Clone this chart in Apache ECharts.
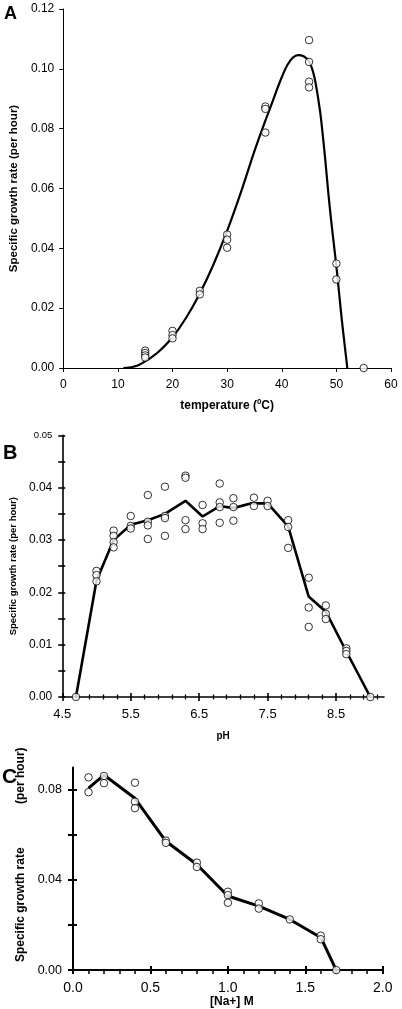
<!DOCTYPE html>
<html><head><meta charset="utf-8">
<script src="https://cdn.jsdelivr.net/npm/echarts@6/dist/echarts.min.js"></script>
<style>html,body{margin:0;padding:0;background:#fff}#c{width:402px;height:1009px}</style>
</head><body><div id="c"></div>
<script>
// ---------- DATA ----------
// Panel A: temperature
const tempCurveX = [11,12,13,14,15,16,17.5,20,22.5,25,27.5,30,32.5,35,37,38,39,40,41,42,43,44,45,46,47,47.5,48,48.5,49,49.5,50,50.5,51,51.5,52];
const tempCurveY = [0,0.0001,0.0005,0.0012,0.0022,0.0034,0.0055,0.0103,0.0168,0.0249,0.0346,0.0458,0.0586,0.0725,0.0827,0.0875,0.0925,0.0972,0.1012,0.1037,0.1046,0.1042,0.1025,0.097,0.086,0.078,0.069,0.059,0.05,0.042,0.034,0.025,0.016,0.008,0];
const tempObsX = [15,15,15,15,20,20,20,25,25,30,30,30,37,37,37,45,45,45,45,50,50,55];
const tempObsY = [0.0058,0.005,0.0042,0.0035,0.0124,0.011,0.0099,0.0258,0.0246,0.0446,0.0429,0.0402,0.0874,0.0866,0.0787,0.1096,0.1023,0.0957,0.0938,0.0349,0.0296,0];
const tempTicks = [0,10,20,30,40,50,60];
const rateTicksA = [0,0.02,0.04,0.06,0.08,0.10,0.12];

// Panel B: pH
const phLineX = [4.7,5.0,5.25,5.5,5.75,6.0,6.3,6.55,6.8,7.0,7.25,7.5,7.8,8.1,8.35,8.65,9.0];
const phLineY = [0,0.0222,0.0300,0.0329,0.0338,0.0350,0.0375,0.0345,0.0365,0.0361,0.0370,0.0370,0.0326,0.0192,0.0163,0.0087,0];
const phObsX = [4.7,5.0,5.0,5.0,5.25,5.25,5.25,5.25,5.5,5.5,5.5,5.75,5.75,5.75,5.75,6.0,6.0,6.0,6.0,6.3,6.3,6.3,6.3,6.55,6.55,6.55,6.8,6.8,6.8,6.8,7.0,7.0,7.0,7.3,7.3,7.5,7.5,7.8,7.8,7.8,8.1,8.1,8.1,8.35,8.35,8.35,8.65,8.65,8.65,9.0];
const phObsY = [0,0.0241,0.0233,0.0221,0.0318,0.0308,0.0296,0.0286,0.0346,0.0327,0.0322,0.0386,0.0335,0.0328,0.0302,0.0402,0.0346,0.0342,0.0308,0.0423,0.0419,0.0338,0.0321,0.0367,0.0332,0.0321,0.0408,0.0372,0.0363,0.0333,0.038,0.0363,0.0337,0.0381,0.0365,0.0375,0.0365,0.0338,0.0325,0.0285,0.0228,0.0171,0.0134,0.0175,0.0159,0.0149,0.0093,0.0088,0.0082,0];
const phTicks = [4.5,5.5,6.5,7.5,8.5];
const phMinorTicks = [4.7,4.9,5.1,5.3,5.7,5.9,6.1,6.3,6.7,6.9,7.1,7.3,7.7,7.9,8.1,8.3,8.7,8.9,9.1];
const rateTicksB = [0,0.01,0.02,0.03,0.04,0.05];
const rateMinorTicksB = [0.005,0.015,0.025,0.035,0.045];

// Panel C: sodium
const naLineX = [0.1,0.2,0.4,0.6,0.8,1.0,1.2,1.4,1.6,1.7];
const naLineY = [0.0808,0.0866,0.0763,0.0572,0.0469,0.0329,0.0284,0.0225,0.0145,0];
const naObsX = [0.1,0.1,0.2,0.2,0.4,0.4,0.4,0.6,0.6,0.8,0.8,1.0,1.0,1.0,1.2,1.2,1.4,1.6,1.6,1.7];
const naObsY = [0.0856,0.079,0.0862,0.083,0.0832,0.0748,0.0719,0.0575,0.0565,0.0477,0.0458,0.0348,0.0333,0.0299,0.0296,0.0273,0.0225,0.0153,0.0137,0];
const naTicks = [0,0.5,1.0,1.5,2.0];
const naMinorTicks = [0.1,0.2,0.3,0.4,0.6,0.7,0.8,0.9,1.1,1.2,1.3,1.4,1.6,1.7,1.8,1.9];
const rateTicksC = [0,0.02,0.04,0.06,0.08];
const rateLabelsC = [0,0.04,0.08];

// ---------- CHART ----------
const FONT = 'Liberation Sans, Arial, sans-serif';
const zip = (xs, ys) => xs.map((x, i) => [x, ys[i]]);
const chart = echarts.init(document.getElementById('c'), null, {renderer: 'canvas'});

function baseAxis(o) {
  return Object.assign({
    type: 'value', splitLine: {show: false}, scale: false,
    axisLine: {show: true, onZero: false, lineStyle: {color: '#000', width: 1}},
    axisTick: {show: true, lineStyle: {color: '#000', width: 1}},
    axisLabel: {color: '#000', fontFamily: FONT},
    nameTextStyle: {color: '#000', fontFamily: FONT, fontWeight: 'bold'}
  }, o);
}
function tickOnly(o, ticks, len, inside, w) {
  return baseAxis(Object.assign({}, o, {
    name: '', axisLine: {show: false, onZero: false},
    axisLabel: {show: false},
    axisTick: {show: true, customValues: ticks, length: len, inside: inside, lineStyle: {color: '#000', width: w}}
  }));
}

const grids = [
  {left: 62, right: 11, top: 9, height: 359},
  {left: 54, right: 18, top: 435.4, height: 261.6},
  {left: 73, right: 19.3, top: 767.4, height: 203.6}
];

// Axes
const xA = {gridIndex: 0, position: 'bottom', min: 0, max: 60, interval: 10};
const yA = {gridIndex: 0, position: 'left', min: 0, max: 0.12, interval: 0.02};
const xB = {gridIndex: 1, position: 'bottom', min: 4.5, max: 9.2};
const yB = {gridIndex: 1, position: 'left', min: 0, max: 0.05, interval: 0.01};
const xC = {gridIndex: 2, position: 'bottom', min: 0, max: 2.0, interval: 0.5};
const yC = {gridIndex: 2, position: 'left', min: 0, max: 0.09};

const xAxes = [
  baseAxis(Object.assign({}, xA, {
    axisTick: {show: true, customValues: tempTicks, length: 4, lineStyle: {color: '#000', width: 1}},
    axisLabel: {customValues: tempTicks, color: '#000', fontFamily: FONT, fontSize: 12, margin: 11},
    name: 'temperature (ºC)', nameLocation: 'middle', nameGap: 32,
    nameTextStyle: {color: '#000', fontFamily: FONT, fontWeight: 'bold', fontSize: 12}
  })),
  baseAxis(Object.assign({}, xB, {
    axisLine: {show: true, onZero: false, lineStyle: {color: '#000', width: 1.6}},
    axisTick: {show: true, customValues: phTicks, length: 4, lineStyle: {color: '#000', width: 1.6}},
    axisLabel: {customValues: phTicks, formatter: v => v.toFixed(1), color: '#000', fontFamily: FONT, fontSize: 13, margin: 11},
    name: 'pH', nameLocation: 'middle', nameGap: 34,
    nameTextStyle: {color: '#000', fontFamily: FONT, fontWeight: 'bold', fontSize: 10}
  })),
  tickOnly(xB, phTicks, 4, true, 1.6),
  tickOnly(xB, phMinorTicks, 2.5, false, 1.3),
  tickOnly(xB, phMinorTicks, 2.5, true, 1.3),
  baseAxis(Object.assign({}, xC, {
    axisLine: {show: true, onZero: false, lineStyle: {color: '#000', width: 2}},
    axisTick: {show: true, customValues: naTicks, length: 4, lineStyle: {color: '#000', width: 2}},
    axisLabel: {customValues: naTicks, formatter: v => v.toFixed(1), color: '#000', fontFamily: FONT, fontSize: 14, margin: 11},
    name: '[Na+] M', nameLocation: 'middle', nameGap: 6,
    nameTextStyle: {color: '#000', fontFamily: FONT, fontWeight: 'bold', fontSize: 12, padding: [0, 0, 0, 8]}
  })),
  tickOnly(xC, naTicks, 4, true, 2),
  tickOnly(xC, naMinorTicks, 4, false, 1.5)
];

const yAxes = [
  baseAxis(Object.assign({}, yA, {
    axisTick: {show: true, customValues: rateTicksA, length: 4, lineStyle: {color: '#000', width: 1}},
    axisLabel: {customValues: rateTicksA, formatter: v => v.toFixed(2), color: '#000', fontFamily: FONT, fontSize: 12, margin: 9},
    name: 'Specific growth rate (per hour)', nameLocation: 'middle', nameGap: 36,
    nameTextStyle: {color: '#000', fontFamily: FONT, fontWeight: 'bold', fontSize: 11.5}
  })),
  baseAxis(Object.assign({}, yB, {
    axisLine: {show: true, onZero: false, lineStyle: {color: '#000', width: 1.6}},
    axisTick: {show: true, customValues: rateTicksB, length: 4, lineStyle: {color: '#000', width: 1.6}},
    axisLabel: {customValues: rateTicksB, color: '#000', fontFamily: FONT, fontSize: 12, margin: 10,
      formatter: v => v >= 0.049 ? '{s|' + v.toFixed(2) + '}' : v.toFixed(2),
      rich: {s: {fontSize: 9.5, fontFamily: FONT, color: '#000'}}},
    name: 'Specific growth rate (per hour)', nameLocation: 'middle', nameGap: 39,
    nameTextStyle: {color: '#000', fontFamily: FONT, fontWeight: 'bold', fontSize: 9.5}
  })),
  tickOnly(yB, rateTicksB.concat(rateMinorTicksB), 3, true, 1.6),
  tickOnly(yB, rateMinorTicksB, 4, false, 1.6),
  baseAxis(Object.assign({}, yC, {
    axisLine: {show: true, onZero: false, lineStyle: {color: '#000', width: 2}},
    axisTick: {show: true, customValues: rateTicksC, length: 5, lineStyle: {color: '#000', width: 2}},
    axisLabel: {customValues: rateLabelsC, formatter: v => v.toFixed(2), color: '#000', fontFamily: FONT, fontSize: 12.5, margin: 11},
    name: 'Specific growth rate             (per hour)', nameLocation: 'middle', nameGap: 36,
    nameTextStyle: {color: '#000', fontFamily: FONT, fontWeight: 'bold', fontSize: 12, padding: [0, 0, 0, 28]}
  })),
  tickOnly(yC, rateTicksC, 4, true, 2)
];

const dot = {symbol: 'circle', symbolSize: 7.5, itemStyle: {color: '#fff', borderColor: '#000', borderWidth: 1}};

const series = [
  {type: 'line', xAxisIndex: 0, yAxisIndex: 0, data: zip(tempCurveX, tempCurveY), smooth: 0.3, showSymbol: false,
   lineStyle: {color: '#000', width: 2.2}, z: 2},
  Object.assign({type: 'scatter', xAxisIndex: 0, yAxisIndex: 0, data: zip(tempObsX, tempObsY), z: 3}, dot),
  {type: 'line', xAxisIndex: 1, yAxisIndex: 1, data: zip(phLineX, phLineY), showSymbol: false,
   lineStyle: {color: '#000', width: 2.6}, z: 2},
  Object.assign({type: 'scatter', xAxisIndex: 1, yAxisIndex: 1, data: zip(phObsX, phObsY), z: 3}, dot),
  {type: 'line', xAxisIndex: 5, yAxisIndex: 4, data: zip(naLineX, naLineY), showSymbol: false,
   lineStyle: {color: '#000', width: 3}, z: 2},
  Object.assign({type: 'scatter', xAxisIndex: 5, yAxisIndex: 4, data: zip(naObsX, naObsY), z: 3}, dot)
];

chart.setOption({
  animation: false,
  backgroundColor: '#fff',
  grid: grids,
  xAxis: xAxes,
  yAxis: yAxes,
  series: series,
  graphic: [
    {type: 'text', left: 4, top: 5, style: {text: 'A', font: 'bold 18px ' + FONT, fill: '#000'}},
    {type: 'text', left: 3, top: 443, style: {text: 'B', font: 'bold 20px ' + FONT, fill: '#000'}},
    {type: 'text', left: 2, top: 767, style: {text: 'C', font: 'bold 21px ' + FONT, fill: '#000'}}
  ]
});
</script>
</body></html>
